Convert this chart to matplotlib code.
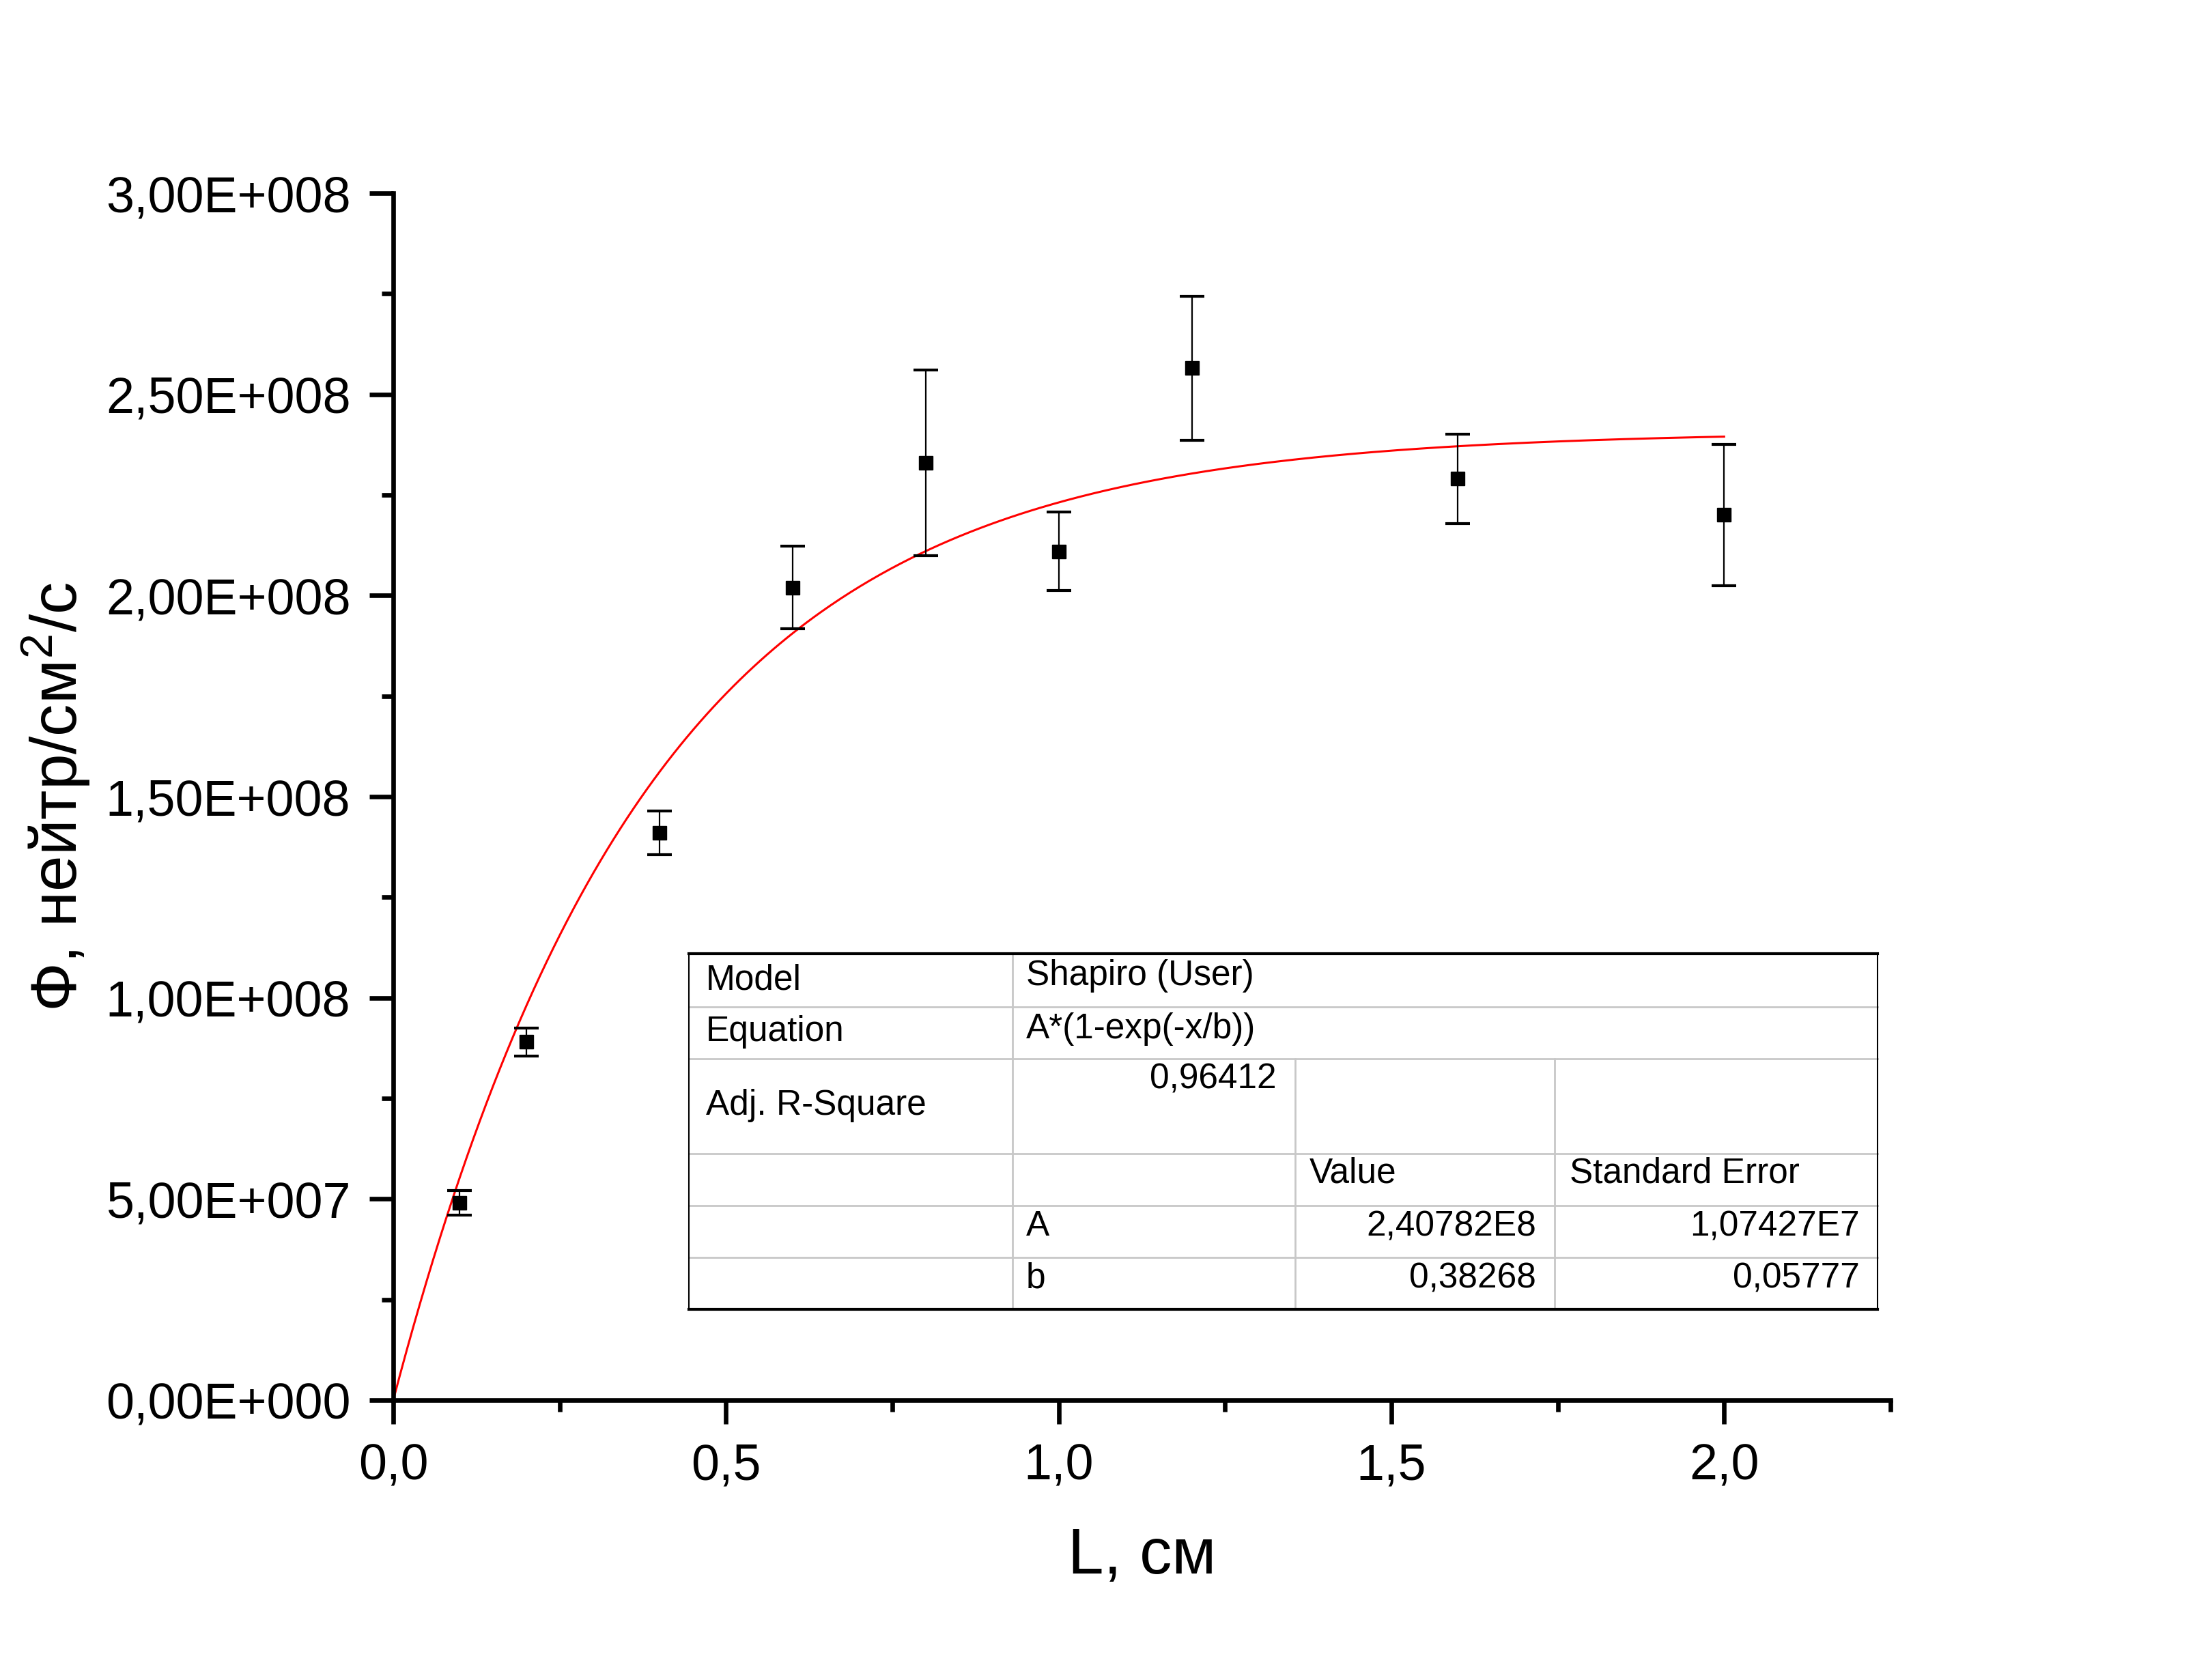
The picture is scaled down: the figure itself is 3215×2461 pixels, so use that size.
import numpy as np
import matplotlib
matplotlib.use("Agg")
import matplotlib.pyplot as plt
from matplotlib.ticker import FixedLocator, MultipleLocator, FuncFormatter

plt.rcParams['font.family'] = ['Liberation Sans', 'DejaVu Sans']
plt.rcParams['mathtext.fontset'] = 'custom'
plt.rcParams['mathtext.rm'] = 'Liberation Sans'
plt.rcParams['mathtext.it'] = 'Liberation Sans'

# measured points
L = [0.1, 0.2, 0.4, 0.6, 0.8, 1.0, 1.2, 1.6, 2.0]
flux = [4.9e7, 8.9e7, 1.41e8, 2.02e8, 2.33e8, 2.11e8, 2.565e8, 2.29e8, 2.20e8]
flux_err = [3.1e6, 3.5e6, 5.4e6, 1.03e7, 2.31e7, 9.7e6, 1.79e7, 1.11e7, 1.76e7]

# fit result (from the table)
A_fit = 2.40782e8
b_fit = 0.38268

xticks = [0.0, 0.5, 1.0, 1.5, 2.0]
xticklabels = ['0,0', '0,5', '1,0', '1,5', '2,0']
yticks = [0, 5e7, 1e8, 1.5e8, 2e8, 2.5e8, 3e8]

table_rows = [
    ['Model', 'Shapiro (User)'],
    ['Equation', 'A*(1-exp(-x/b))'],
    ['Adj. R-Square', '0,96412'],
]
param_names = ['A', 'b']
param_values = ['2,40782E8', '0,38268']
param_errors = ['1,07427E7', '0,05777']


def sci_fmt(v, pos):
    if v == 0:
        return '0,00E+000'
    e = int(np.floor(np.log10(abs(v))))
    m = v / 10 ** e
    return ('%.2f' % m).replace('.', ',') + 'E+%03d' % e


W, H = 3216, 2461
fig = plt.figure(figsize=(W / 100, H / 100), dpi=100)

ax_l, ax_r, ax_b, ax_t = 576, 2769, 2051, 283
ax = fig.add_axes([ax_l / W, 1 - ax_b / H, (ax_r - ax_l) / W, (ax_b - ax_t) / H])

xs = np.linspace(0, 2.0, 400)
ax.plot(xs, A_fit * (1 - np.exp(-xs / b_fit)), color='red', lw=2.2, zorder=2)
ax.errorbar(L, flux, yerr=flux_err, fmt='s', color='black', ms=14,
            capsize=13, capthick=3, elinewidth=1.6, zorder=3)

ax.set_xlim(0, 2.25)
ax.set_ylim(0, 3e8)
ax.xaxis.set_major_locator(FixedLocator(xticks))
ax.set_xticklabels(xticklabels)
ax.xaxis.set_minor_locator(MultipleLocator(0.25))
ax.yaxis.set_major_locator(FixedLocator(yticks))
ax.yaxis.set_major_formatter(FuncFormatter(sci_fmt))
ax.yaxis.set_minor_locator(MultipleLocator(2.5e7))

for s in ['top', 'right']:
    ax.spines[s].set_visible(False)
for s in ['left', 'bottom']:
    ax.spines[s].set_linewidth(4.8)
ax.tick_params(which='major', direction='out', length=25, width=4.8, labelsize=53, pad=20)
ax.tick_params(which='minor', direction='out', length=12, width=4.8)

ax.set_xlabel('L, см', fontsize=68, va='center')
ax.xaxis.set_label_coords(0.5, -0.130)
ax.set_ylabel('Ф, нейтр/см$^{2}$/с', fontsize=68, va='center')
ax.yaxis.set_label_coords(-0.2253, 0.5)

# fit table
t_l, t_r, t_t, t_b = 1009, 2750, 1397, 1918
tb = fig.add_axes([t_l / W, 1 - t_b / H, (t_r - t_l) / W, (t_b - t_t) / H])
tb.set_xlim(t_l, t_r)
tb.set_ylim(t_b, t_t)
tb.axis('off')

grey = '#c8c8c8'
for yy in [1475, 1551, 1690, 1766, 1842]:
    tb.plot([t_l, t_r], [yy, yy], color=grey, lw=2, clip_on=False)
tb.plot([1483, 1483], [t_t, t_b], color=grey, lw=2, clip_on=False)
for xx in [1897, 2277]:
    tb.plot([xx, xx], [1551, t_b], color=grey, lw=2, clip_on=False)
tb.plot([t_l, t_r], [t_t, t_t], color='black', lw=3, clip_on=False)
tb.plot([t_l, t_r], [t_b, t_b], color='black', lw=3, clip_on=False)
tb.plot([t_l, t_l], [t_t, t_b], color='black', lw=1.5, clip_on=False)
tb.plot([t_r, t_r], [t_t, t_b], color='black', lw=1.5, clip_on=False)

fs = 37
tb.text(1034, 1436, table_rows[0][0], fontsize=fs, va='center')
tb.text(1503, 1430, table_rows[0][1], fontsize=fs, va='center')
tb.text(1034, 1512, table_rows[1][0], fontsize=fs, va='center')
tb.text(1503, 1507, table_rows[1][1], fontsize=fs, va='center')
tb.text(1034, 1620, table_rows[2][0], fontsize=fs, va='center')
tb.text(1870, 1581, table_rows[2][1], fontsize=fs, va='center', ha='right')
tb.text(1918, 1719, 'Value', fontsize=fs, va='center')
tb.text(2299, 1719, 'Standard Error', fontsize=fs, va='center')
for i, yy in enumerate([1797, 1873]):
    tb.text(1503, yy, param_names[i], fontsize=fs, va='center')
    tb.text(2250, yy, param_values[i], fontsize=fs, va='center', ha='right')
    tb.text(2724, yy, param_errors[i], fontsize=fs, va='center', ha='right')

fig.savefig('out.png', dpi=100)
